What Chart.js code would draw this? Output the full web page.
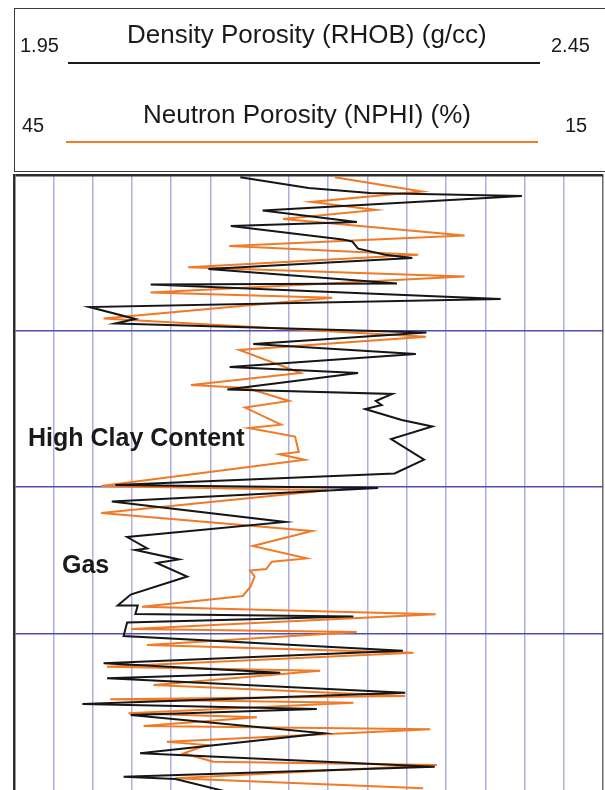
<!DOCTYPE html>
<html>
<head>
<meta charset="utf-8">
<title>Density / Neutron Porosity Log</title>
<script src="https://cdn.jsdelivr.net/npm/chart.js@4.4.1/dist/chart.umd.min.js"></script>
<style>
    html, body { margin: 0; padding: 0; background: #fff; overflow: hidden; }
    body { font-family: "Liberation Sans", Arial, sans-serif; color: #1a1a1a; }
    #wrap { position: relative; width: 605px; height: 790px; overflow: hidden; }
    #logChart { position: absolute; left: 0; top: 0; }
    .header-box {
        position: absolute; left: 14px; top: 8px; width: 600px; height: 164px;
        border: 1.5px solid #3a3a3a; box-sizing: border-box;
    }
    .lbl { position: absolute; line-height: 1; white-space: nowrap; }
    .scale { font-size: 20px; }
    .curve-name { font-size: 26px; }
    .scale-line { position: absolute; height: 2px; }
    .note { position: absolute; line-height: 1; font-weight: bold; font-size: 25px; white-space: nowrap; }
</style>
</head>
<body>
<div id="wrap">
    <canvas id="logChart" width="605" height="790"></canvas>

    <div class="header-box"></div>
    <span class="lbl scale" style="left:20px; top:35px;">1.95</span>
    <span class="lbl curve-name" id="rhob-name" style="top:21px;">Density Porosity (RHOB) (g/cc)</span>
    <span class="lbl scale" style="left:551px; top:35px;">2.45</span>
    <div class="scale-line" style="left:68px; width:472px; top:62px; background:#1a1a1a;"></div>

    <span class="lbl scale" style="left:22px; top:115px;">45</span>
    <span class="lbl curve-name" id="nphi-name" style="top:101px;">Neutron Porosity (NPHI) (%)</span>
    <span class="lbl scale" style="left:565px; top:115px;">15</span>
    <div class="scale-line" style="left:66px; width:472px; top:141px; background:#f07a25;"></div>

    <span class="note" style="left:28px; top:425px;">High Clay Content</span>
    <span class="note" style="left:62px; top:552px;">Gas</span>
</div>

<script>
// Density curve (RHOB, g/cc) - depth counted down from the top of the track
const rhobDepth = [2.3, 13, 18, 21, 35.5, 47, 51, 64.6, 66.4, 73.7, 79.7, 83, 94, 108.6, 109.6, 124, 132, 144, 148.4,
    157.4, 169, 179, 192, 198, 214.6, 219, 226, 230, 234, 245, 251.4, 264, 284.7, 298.4,
    310, 313, 326.5, 347, 362, 373.5, 375, 384.4, 388, 401.5, 419.6, 430.4, 430.4, 439, 441.6, 447.5,
    461, 475.7, 488.3, 497.7, 503.3, 517.7, 529, 534, 540, 558.3, 578.3, 591.7, 601.7, 604, 625];
const rhobValues = [2.142, 2.200, 2.252, 2.381, 2.161, 2.241, 2.134, 2.229, 2.237, 2.242, 2.265, 2.288, 2.115, 2.275, 2.066, 2.363, 2.014, 2.053, 2.036,
    2.300, 2.153, 2.291, 2.133, 2.242, 2.131, 2.271, 2.257, 2.262, 2.248, 2.279, 2.305, 2.270, 2.298, 2.273,
    2.036, 2.259, 2.033, 2.180, 2.046, 2.063, 2.053, 2.090, 2.071, 2.097, 2.049, 2.038, 2.055, 2.053, 2.238, 2.046,
    2.043, 2.280, 2.026, 2.176, 2.029, 2.282, 2.008, 2.207, 2.049, 2.213, 2.057, 2.307, 2.043, 2.087, 2.159];

// Neutron curve (NPHI, %)
const nphiDepth = [2.3, 16.6, 27, 35, 44, 60.4, 71, 79.7, 92.3, 101.6, 117.5, 122.8, 143.4,
    161.7, 175, 198, 210, 213, 226, 232.6, 249.7, 253, 261.6, 277, 279.3, 284.7,
    311, 315.3, 338, 356, 371, 383.4, 386.7, 394, 395.6, 401.5, 411.4, 421, 431.8, 439.3,
    454, 457, 470, 477.7, 491.7, 495.7, 510, 521, 524.3, 527.7, 538.3, 542.3, 551, 554.3,
    566.7, 570, 578.3, 586.7, 590, 603.3, 613.3];
const nphiValues = [28.67, 24.22, 29.85, 26.57, 31.30, 22.06, 34.04, 24.42, 36.13, 22.06, 38.05, 28.80, 40.44,
    24.02, 33.53, 30.40, 35.99, 33.14, 30.99, 33.24, 31.40, 33.05, 30.69, 30.50, 31.48, 30.20,
    40.56, 29.03, 40.56, 29.82, 32.85, 30.10, 31.87, 32.16, 32.98, 32.75, 32.95, 33.35, 38.48, 23.53,
    39.03, 27.55, 38.23, 24.66, 40.27, 29.41, 37.90, 25.09, 40.10, 27.72, 39.17, 32.63, 38.40, 23.81,
    37.21, 35.18, 36.37, 34.84, 23.47, 36.79, 24.17];

// Track scales and zone boundaries
const rhobRange = [1.95, 2.45];
const nphiRange = [45, 15];
const trackDivisions = 15;
const zoneTops = [0, 156, 312, 459];
const depthRange = [0, 615];

function toPoints(values, depths) {
    return values.map((v, i) => ({ x: v, y: depths[i] }));
}

// center the curve names over their scale lines
['rhob-name', 'nphi-name'].forEach(id => {
    const el = document.getElementById(id);
    el.style.left = (307 - el.offsetWidth / 2) + 'px';
});

const ctx = document.getElementById('logChart').getContext('2d');
new Chart(ctx, {
    type: 'scatter',
    data: {
        datasets: [
            {
                label: 'RHOB',
                data: toPoints(rhobValues, rhobDepth),
                xAxisID: 'xd',
                showLine: true,
                borderColor: '#161616',
                borderWidth: 2,
                pointRadius: 0,
                tension: 0
            },
            {
                label: 'NPHI',
                data: toPoints(nphiValues, nphiDepth),
                xAxisID: 'xn',
                showLine: true,
                borderColor: '#f07a25',
                borderWidth: 2,
                pointRadius: 0,
                tension: 0
            }
        ]
    },
    options: {
        responsive: false,
        animation: false,
        layout: { padding: { left: 14, right: 1.8, top: 175, bottom: 0 } },
        plugins: {
            legend: { display: false },
            tooltip: { enabled: false }
        },
        scales: {
            xd: { type: 'linear', display: false, min: rhobRange[0], max: rhobRange[1] },
            xn: { type: 'linear', display: false, min: nphiRange[1], max: nphiRange[0], reverse: true },
            grid: {
                type: 'linear',
                axis: 'x',
                position: 'bottom',
                min: 0,
                max: trackDivisions,
                ticks: { display: false, stepSize: 1 },
                grid: {
                    color: ctx => {
                        if (ctx.tick.value === 0) return 'rgba(0,0,0,0)';
                        return ctx.tick.value === trackDivisions ? '#6a6a6a' : '#aeaee0';
                    },
                    lineWidth: 1.5,
                    drawTicks: false
                },
                border: { display: false }
            },
            y: {
                type: 'linear',
                min: depthRange[0],
                max: depthRange[1],
                reverse: true,
                afterBuildTicks: scale => {
                    scale.ticks = zoneTops.map(v => ({ value: v }));
                },
                ticks: { display: false },
                grid: {
                    color: ctx => (ctx.tick.value === 0 ? '#2e2e2e' : '#4f4fb0'),
                    lineWidth: ctx => (ctx.tick.value === 0 ? 2.5 : 1.5),
                    drawTicks: false
                },
                border: { display: true, color: '#2e2e2e', width: 2.5 }
            }
        }
    }
});
</script>
</body>
</html>
